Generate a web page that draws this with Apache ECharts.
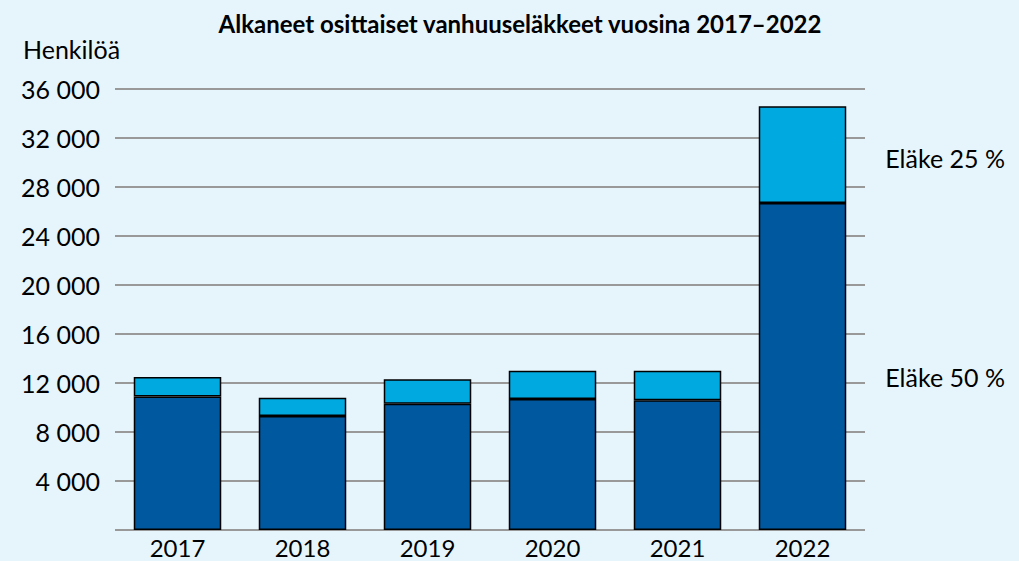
<!DOCTYPE html>
<html>
<head>
<meta charset="utf-8">
<script src="https://cdn.jsdelivr.net/npm/echarts@6/dist/echarts.min.js"></script>
<style>
  html, body { margin: 0; padding: 0; background: #e6f5fc; }
  #chart { width: 1019px; height: 561px; }
</style>
</head>
<body>
<div id="chart"></div>
<script>
const years = ['2017', '2018', '2019', '2020', '2021', '2022'];
const elake50 = [10900, 9300, 10300, 10700, 10600, 26700];
const elake25 = [1600, 1500, 2000, 2300, 2400, 7900];
const seriesNames = ['Eläke 50 %', 'Eläke 25 %'];

const fontFamily = 'Lato, "Open Sans", sans-serif';

const chart = echarts.init(document.getElementById('chart'), null, { renderer: 'svg' });

// Nimi näytetään vain viimeisen pylvään oikealla puolella
function withEndLabel(values, name, offsetY) {
    return values.map(function (v, i) {
        if (i !== values.length - 1) return v;
        return {
            value: v,
            label: {
                show: true,
                position: 'right',
                distance: 39,
                offset: [0, offsetY],
                formatter: name,
                color: '#000',
                fontSize: 25,
                fontFamily: fontFamily
            }
        };
    });
}

chart.setOption({
    backgroundColor: '#e6f5fc',
    animation: false,
    title: {
        text: 'Alkaneet osittaiset vanhuuseläkkeet vuosina 2017–2022',
        left: 515,
        textAlign: 'center',
        top: 6,
        textStyle: { fontSize: 24, fontWeight: 'bold', color: '#000', fontFamily: fontFamily }
    },
    graphic: [{
        type: 'text',
        left: 23,
        top: 36,
        style: { text: 'Henkilöä', fontSize: 25, fill: '#000', fontFamily: fontFamily }
    }],
    grid: { left: 115, right: 154, top: 89, bottom: 31 },
    xAxis: {
        type: 'category',
        data: years,
        axisLine: { show: false },
        axisTick: { show: false },
        axisLabel: { fontSize: 24, color: '#000', margin: 5, fontFamily: fontFamily }
    },
    yAxis: {
        type: 'value',
        min: 0,
        max: 36000,
        interval: 4000,
        axisLine: { show: false },
        axisTick: { show: false },
        splitLine: { lineStyle: { color: '#999', width: 2 } },
        axisLabel: {
            fontSize: 25,
            color: '#000',
            margin: 15,
            fontFamily: fontFamily,
            formatter: function (v) {
                if (v === 0) return '';
                return String(v).replace(/\B(?=(\d{3})+(?!\d))/g, ' ');
            }
        }
    },
    series: [
        {
            name: seriesNames[0],
            type: 'bar',
            stack: 'yht',
            barWidth: '70%',
            data: withEndLabel(elake50, seriesNames[0], 11),
            itemStyle: { color: '#00589f', borderColor: '#000', borderWidth: 1.5 }
        },
        {
            name: seriesNames[1],
            type: 'bar',
            stack: 'yht',
            barWidth: '70%',
            data: withEndLabel(elake25, seriesNames[1], 3),
            itemStyle: { color: '#00aae0', borderColor: '#000', borderWidth: 1.5 }
        }
    ]
});
</script>
</body>
</html>
